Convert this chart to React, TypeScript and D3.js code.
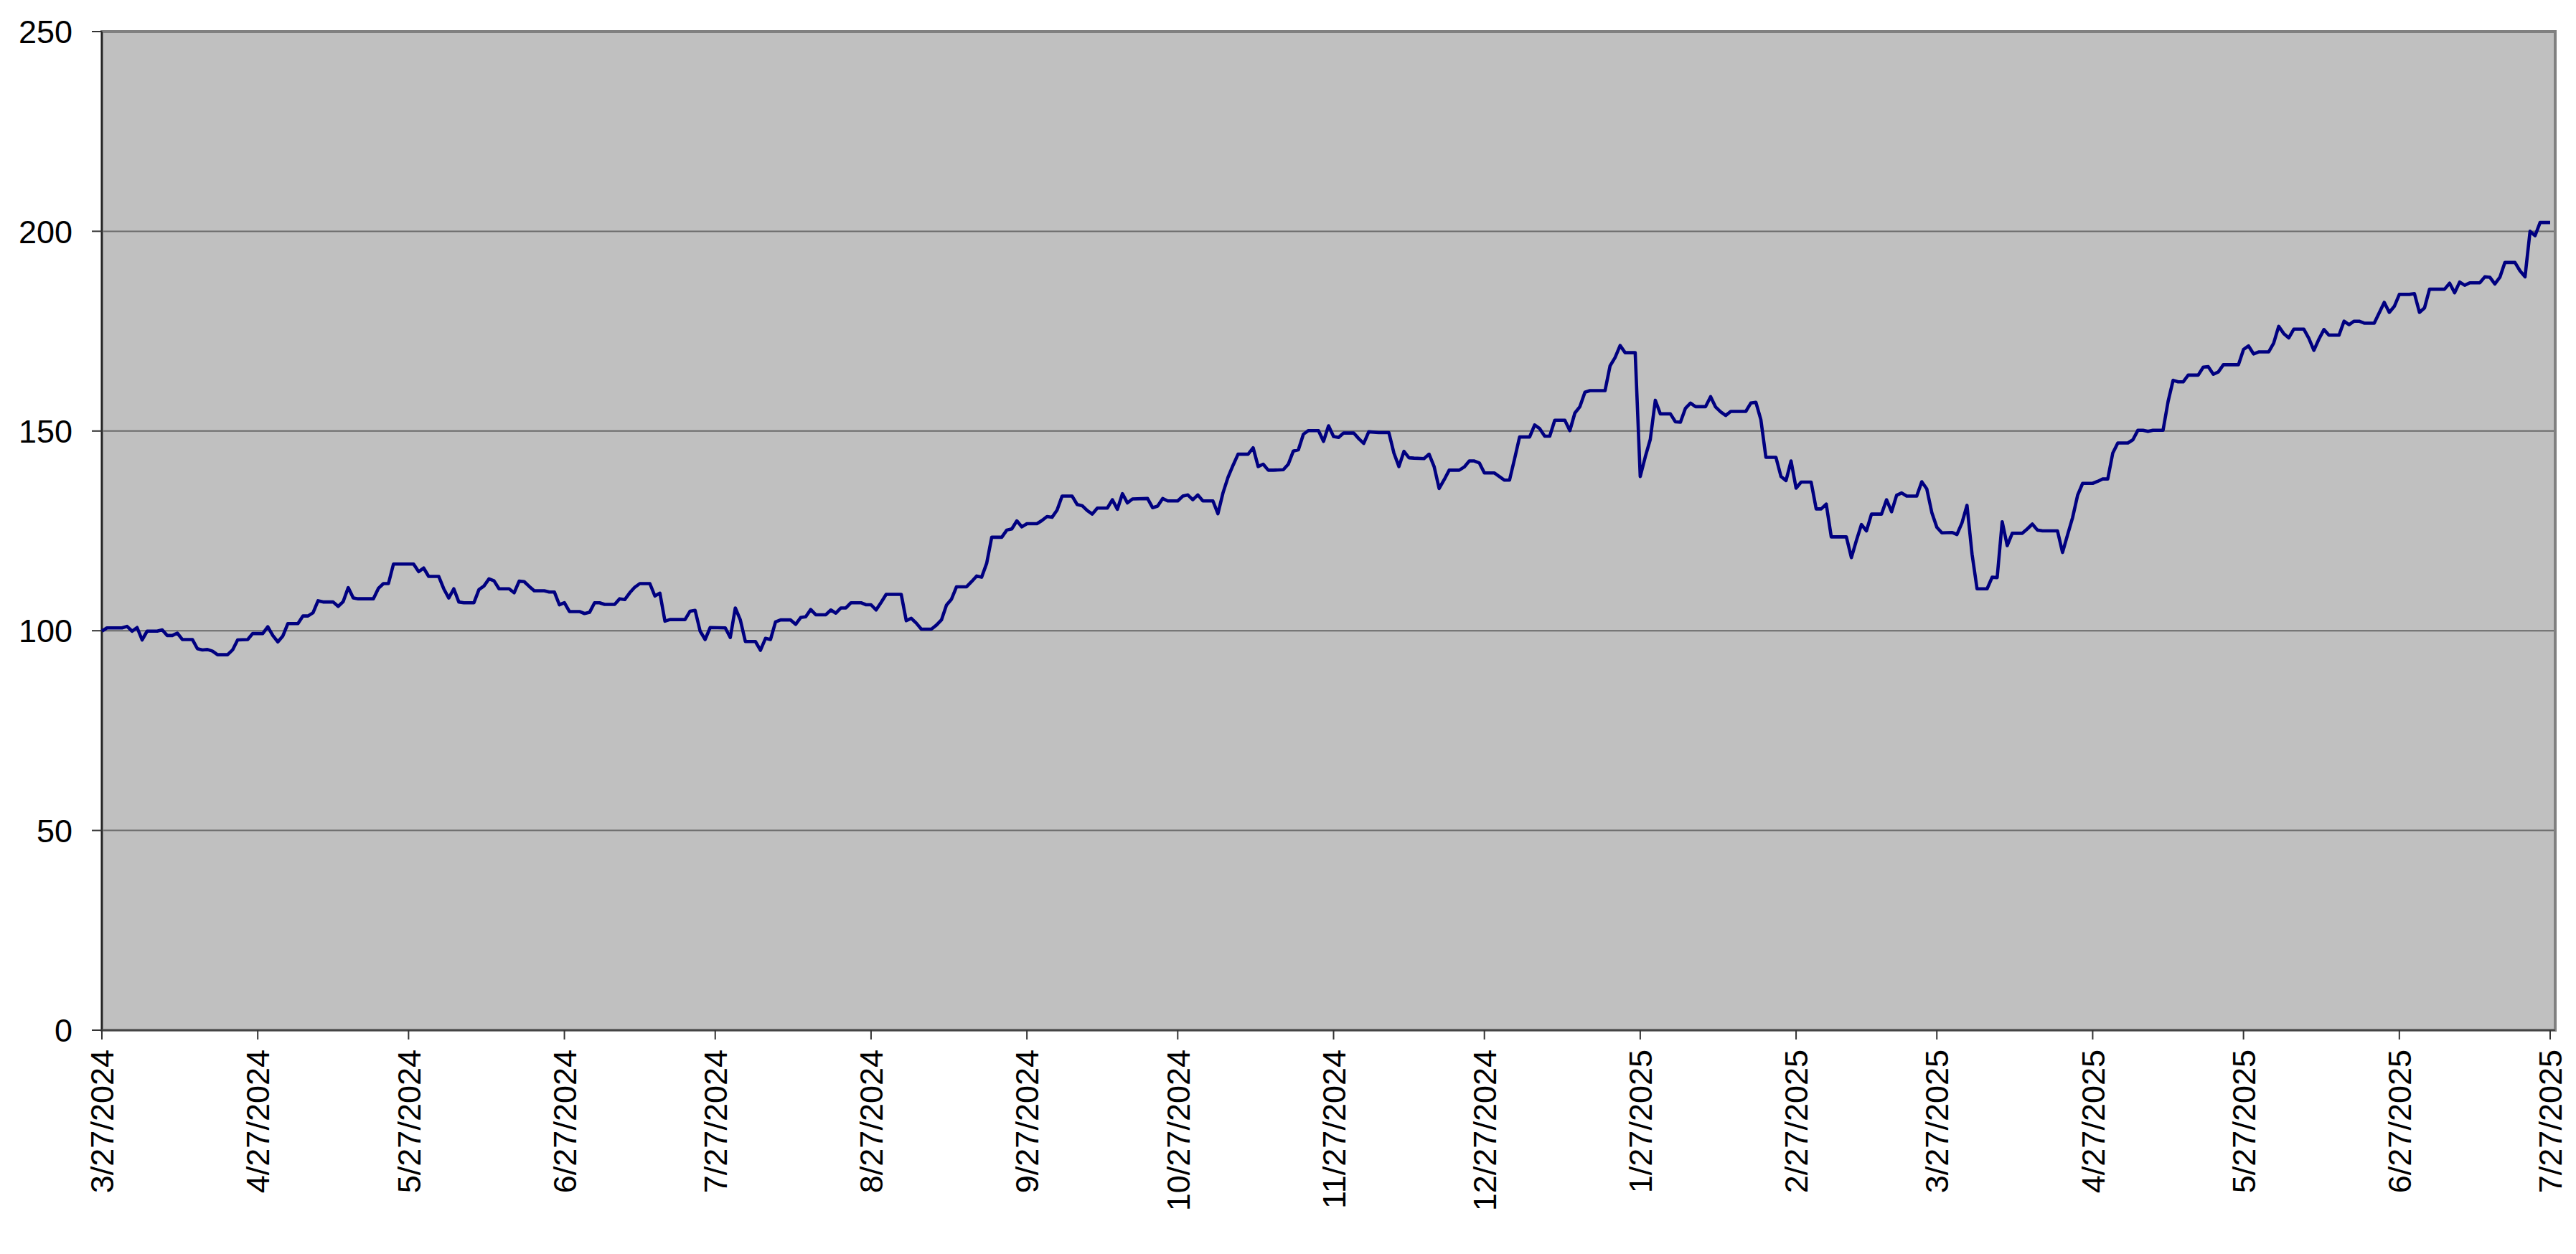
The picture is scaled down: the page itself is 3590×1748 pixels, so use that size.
import { useEffect, useRef } from "react";
import * as d3 from "d3";

// series start; each point is (days after start, value)
const START = "3/27/2024";

const dayOffsets = [
  0, 1, 4, 5, 6, 7, 8, 9, 11, 12, 13, 14, 15, 16, 18, 19, 20, 21, 22, 23, 25, 26, 27, 29, 30, 32, 33, 34, 35, 36, 37, 39,
  40, 41, 42, 43, 44, 46, 47, 48, 49, 50, 51, 54, 55, 56, 57, 58, 62, 63, 64, 65, 67, 68, 69, 70, 71, 72, 74, 75, 76, 77,
  78, 79, 81, 82, 83, 84, 85, 86, 88, 89, 90, 91, 92, 93, 95, 96, 97, 98, 99, 100, 102, 103, 104, 105, 106, 107, 109, 110,
  111, 112, 113, 116, 117, 118, 119, 120, 121, 124, 125, 126, 127, 128, 130, 131, 132, 133, 134, 135, 137, 138, 139, 140,
  141, 142, 144, 145, 146, 147, 148, 149, 151, 152, 153, 154, 155, 156, 159, 160, 161, 162, 163, 165, 166, 167, 168, 169,
  170, 172, 173, 174, 175, 176, 177, 179, 180, 181, 182, 183, 184, 186, 187, 188, 189, 190, 191, 193, 194, 195, 196, 197,
  198, 200, 201, 202, 203, 204, 205, 208, 209, 210, 211, 212, 214, 215, 216, 217, 218, 219, 221, 222, 223, 224, 225, 226,
  228, 229, 230, 231, 232, 233, 235, 236, 237, 238, 239, 240, 242, 243, 244, 245, 246, 247, 249, 250, 251, 252, 254, 256,
  257, 258, 259, 260, 261, 263, 264, 265, 266, 267, 268, 270, 271, 272, 273, 274, 275, 277, 278, 279, 280, 281, 282, 284,
  285, 286, 287, 288, 289, 291, 292, 293, 294, 295, 296, 299, 300, 301, 302, 303, 305, 306, 307, 308, 309, 310, 312, 313,
  314, 315, 316, 317, 319, 320, 321, 322, 323, 324, 327, 328, 329, 330, 331, 333, 334, 335, 336, 337, 338, 340, 341, 342,
  343, 344, 347, 348, 349, 350, 351, 352, 354, 355, 356, 357, 358, 359, 361, 362, 363, 364, 365, 366, 368, 369, 370, 371,
  372, 373, 375, 376, 377, 378, 379, 380, 382, 383, 384, 385, 386, 389, 390, 391, 392, 393, 394, 396, 397, 398, 399, 400,
  401, 403, 404, 405, 406, 407, 408, 410, 411, 412, 413, 414, 415, 417, 418, 419, 420, 421, 422, 425, 426, 427, 428, 429,
  431, 432, 433, 434, 435, 436, 438, 439, 440, 441, 442, 443, 445, 446, 447, 448, 449, 450, 452, 453, 454, 455, 456, 457,
  459, 460, 461, 462, 463, 466, 467, 468, 469, 470, 471, 473, 474, 475, 476, 477, 478, 480, 481, 482, 483, 484, 485, 487,
];

const values = [
  99.9, 100.7, 100.7, 101.1, 99.9, 100.8, 97.7, 99.9, 99.9, 100.2, 98.8, 98.8, 99.4, 97.8, 97.8, 95.5, 95.2, 95.3, 94.9,
  94.0, 94.0, 95.2, 97.7, 97.8, 99.3, 99.3, 101.0, 98.8, 97.2, 98.7, 101.8, 101.8, 103.7, 103.7, 104.5, 107.5, 107.2,
  107.2, 106.1, 107.3, 110.8, 108.2, 108.0, 108.0, 110.6, 111.8, 111.8, 116.7, 116.7, 114.8, 115.7, 113.6, 113.6, 110.5,
  108.2, 110.5, 107.2, 107.0, 107.0, 110.3, 111.2, 113.0, 112.5, 110.5, 110.5, 109.5, 112.4, 112.3, 111.1, 110.0, 110.0,
  109.7, 109.7, 106.5, 107.0, 104.8, 104.8, 104.3, 104.6, 107.0, 107.0, 106.6, 106.6, 108.0, 107.8, 109.5, 110.9, 111.8,
  111.8, 108.7, 109.4, 102.4, 102.8, 102.8, 104.9, 105.1, 99.9, 97.8, 100.8, 100.7, 98.3, 105.7, 102.7, 97.3, 97.3, 95.1,
  98.1, 97.8, 102.2, 102.7, 102.7, 101.6, 103.3, 103.5, 105.3, 104.0, 104.0, 105.2, 104.4, 105.7, 105.7, 107.0, 107.0,
  106.5, 106.5, 105.2, 107.1, 109.1, 109.1, 102.5, 103.1, 101.9, 100.4, 100.4, 101.4, 102.7, 106.4, 107.9, 111.0, 111.0,
  112.3, 113.7, 113.4, 116.9, 123.4, 123.4, 125.2, 125.5, 127.5, 126.0, 126.8, 126.8, 127.6, 128.6, 128.4, 130.2, 133.7,
  133.7, 131.6, 131.3, 130.1, 129.2, 130.7, 130.7, 132.8, 130.4, 134.3, 132.0, 133.0, 133.1, 130.8, 131.2, 133.1, 132.5,
  132.5, 133.7, 134.0, 132.8, 134.0, 132.5, 132.5, 129.3, 134.5, 138.4, 141.4, 144.2, 144.2, 145.8, 141.1, 141.7, 140.2,
  140.2, 140.3, 141.7, 145.0, 145.3, 149.2, 150.1, 150.1, 147.4, 151.3, 148.6, 148.4, 149.5, 149.5, 148.1, 146.9, 149.8,
  149.6, 149.6, 144.5, 141.1, 144.9, 143.3, 143.2, 143.1, 144.2, 141.1, 135.6, 137.8, 140.2, 140.2, 141.0, 142.5, 142.5,
  142.0, 139.5, 139.5, 138.6, 137.7, 137.7, 143.0, 148.5, 148.5, 151.5, 150.6, 148.7, 148.7, 152.7, 152.7, 150.1, 154.5,
  156.1, 159.7, 160.1, 160.1, 166.3, 168.4, 171.4, 169.6, 169.6, 138.6, 143.5, 147.9, 157.7, 154.3, 154.3, 152.3, 152.2,
  155.7, 157.0, 156.1, 156.1, 158.6, 156.0, 154.8, 153.9, 154.9, 154.9, 157.0, 157.2, 152.8, 143.4, 143.4, 138.6, 137.6,
  142.5, 135.7, 137.2, 137.2, 130.5, 130.5, 131.7, 123.5, 123.5, 118.3, 122.6, 126.6, 125.0, 129.2, 129.2, 132.8, 129.8,
  133.9, 134.5, 133.7, 133.7, 137.3, 135.5, 129.6, 125.9, 124.5, 124.6, 124.1, 127.0, 131.4, 119.2, 110.5, 110.5, 113.4,
  113.3, 127.3, 121.3, 124.4, 124.4, 125.5, 126.7, 125.2, 125.0, 125.0, 119.6, 124.0, 128.3, 133.9, 136.9, 136.9, 137.4,
  138.0, 138.0, 144.5, 147.0, 147.0, 147.8, 150.2, 150.2, 149.9, 150.2, 150.2, 157.4, 162.7, 162.3, 162.3, 164.0, 164.0,
  166.0, 166.1, 164.2, 164.8, 166.6, 166.6, 170.4, 171.3, 169.3, 169.8, 169.8, 172.0, 176.2, 174.4, 173.3, 175.5, 175.5,
  173.2, 170.2, 173.0, 175.4, 174.0, 174.0, 177.5, 176.6, 177.5, 177.5, 177.0, 177.0, 179.6, 182.2, 179.7, 181.2, 184.2,
  184.2, 184.4, 179.7, 180.8, 185.5, 185.5, 187.0, 184.6, 187.3, 186.5, 187.1, 187.1, 188.6, 188.5, 186.8, 188.5, 192.2,
  192.2, 190.1, 188.6, 200.0, 198.9, 202.2, 202.2,
];

const xTickLabels = [
  "3/27/2024", "4/27/2024", "5/27/2024", "6/27/2024", "7/27/2024", "8/27/2024", "9/27/2024", "10/27/2024",
  "11/27/2024", "12/27/2024", "1/27/2025", "2/27/2025", "3/27/2025", "4/27/2025", "5/27/2025", "6/27/2025", "7/27/2025",
];
const yTicks = [0, 50, 100, 150, 200, 250];
const X_END = "7/28/2025";

const W = 3590;
const H = 1748;
const FONT = "'Liberation Sans', Arial, sans-serif";

export default function App() {
  const ref = useRef<SVGSVGElement | null>(null);

  useEffect(() => {
    const svg = d3.select(ref.current);
    svg.selectAll("*").remove();

    const parse = d3.timeParse("%m/%d/%Y");
    const start = parse(START) as Date;
    const data = dayOffsets.map((d, i) => ({ date: d3.timeDay.offset(start, d), value: values[i] }));

    const left = 142;
    const right = 3561;
    const top = 44;
    const bottom = 1436;

    const x = d3.scaleTime().domain([start, parse(X_END) as Date]).range([left, right]);
    const y = d3.scaleLinear().domain([0, 250]).range([bottom, top]);

    svg.append("rect").attr("width", W).attr("height", H).attr("fill", "#ffffff");

    // plot area
    svg
      .append("rect")
      .attr("x", left)
      .attr("y", top)
      .attr("width", right - left)
      .attr("height", bottom - top)
      .attr("fill", "#c0c0c0");

    // gridlines
    svg
      .append("g")
      .selectAll("line")
      .data(yTicks.filter((t) => t > 0 && t < 250))
      .join("line")
      .attr("x1", left)
      .attr("x2", right)
      .attr("y1", (d) => y(d))
      .attr("y2", (d) => y(d))
      .attr("stroke", "#6a6a6a")
      .attr("stroke-width", 2);

    // border
    svg
      .append("rect")
      .attr("x", left)
      .attr("y", top)
      .attr("width", right - left)
      .attr("height", bottom - top)
      .attr("fill", "none")
      .attr("stroke", "#808080")
      .attr("stroke-width", 4);

    // axis lines
    svg
      .append("line")
      .attr("x1", left)
      .attr("x2", left)
      .attr("y1", top)
      .attr("y2", bottom)
      .attr("stroke", "#222")
      .attr("stroke-width", 2);
    svg
      .append("line")
      .attr("x1", left)
      .attr("x2", right)
      .attr("y1", bottom)
      .attr("y2", bottom)
      .attr("stroke", "#444")
      .attr("stroke-width", 2);

    // y ticks + labels
    const yg = svg.append("g");
    yg.selectAll("line")
      .data(yTicks)
      .join("line")
      .attr("x1", left - 14)
      .attr("x2", left)
      .attr("y1", (d) => y(d))
      .attr("y2", (d) => y(d))
      .attr("stroke", "#333")
      .attr("stroke-width", 2);
    yg.selectAll("text")
      .data(yTicks)
      .join("text")
      .attr("x", 101)
      .attr("y", (d) => y(d))
      .attr("dy", "0.36em")
      .attr("text-anchor", "end")
      .attr("font-family", FONT)
      .attr("font-size", 45)
      .attr("fill", "#000")
      .text((d) => d);

    // x ticks + labels
    const xTicks = xTickLabels.map((s) => ({ label: s, date: parse(s) as Date }));
    const xg = svg.append("g");
    xg.selectAll("line")
      .data(xTicks)
      .join("line")
      .attr("x1", (d) => x(d.date))
      .attr("x2", (d) => x(d.date))
      .attr("y1", bottom)
      .attr("y2", bottom + 13)
      .attr("stroke", "#333")
      .attr("stroke-width", 2);
    xg.selectAll("text")
      .data(xTicks)
      .join("text")
      .attr("transform", (d) => `translate(${x(d.date)},${bottom + 27}) rotate(-90)`)
      .attr("dy", "0.36em")
      .attr("text-anchor", "end")
      .attr("font-family", FONT)
      .attr("font-size", 45)
      .attr("fill", "#000")
      .text((d) => d.label);

    // series
    const line = d3
      .line<{ date: Date; value: number }>()
      .x((d) => x(d.date))
      .y((d) => y(d.value));
    svg
      .append("path")
      .datum(data)
      .attr("d", line)
      .attr("fill", "none")
      .attr("stroke", "#000080")
      .attr("stroke-width", 4.6)
      .attr("stroke-linejoin", "round");
  }, []);

  return (
    <svg
      ref={ref}
      width={W}
      height={H}
      style={{ position: "absolute", left: 0, top: 0, display: "block" }}
    />
  );
}
